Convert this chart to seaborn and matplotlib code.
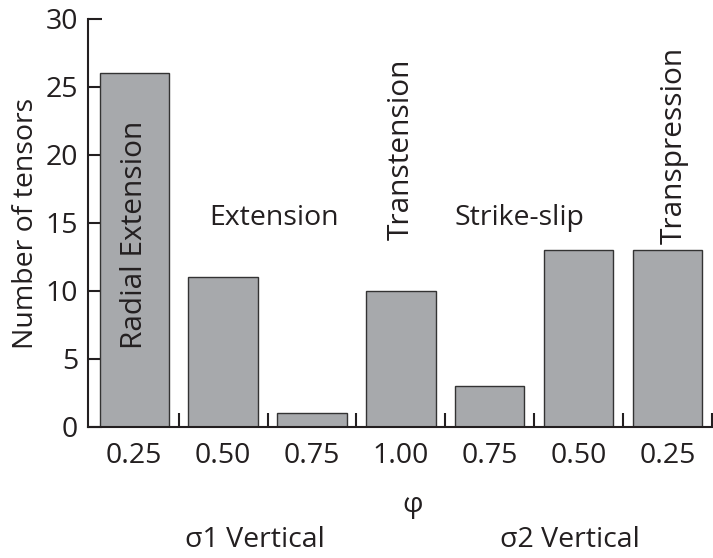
import matplotlib
matplotlib.use("Agg")
import matplotlib.pyplot as plt
import seaborn as sns
import pandas as pd
import numpy as np

phi_labels = ["0.25", "0.50", "0.75", "1.00", "0.75", "0.50", "0.25"]
counts = [26, 11, 1, 10, 3, 13, 13]
positions = list(range(len(counts)))

sns.set_theme(style="ticks")
plt.rcParams['font.family'] = ['Open Sans', 'DejaVu Sans']

fig = plt.figure(figsize=(7.13, 5.58), dpi=100)
ax = fig.add_axes([0.1234, 0.2348, 0.8752, 0.7312])

df = pd.DataFrame({"pos": positions, "count": counts})
sns.barplot(data=df, x="pos", y="count", ax=ax, color="#a7a9ac", saturation=1,
            width=0.78, edgecolor="#333333", linewidth=1.0)

ax.set_xlim(-0.52, 6.42)
ax.set_ylim(0, 30)
ax.set_yticks([0, 5, 10, 15, 20, 25, 30])
ax.set_xticks(positions)
ax.set_xticklabels(phi_labels)
ax.set_xticks([0.5, 1.5, 2.5, 3.5, 4.5, 5.5, 6.5], minor=True)
fs = 20.5
tc = "#231f20"
ax.tick_params(axis="x", which="major", length=0, pad=11, labelsize=fs, colors=tc)
ax.tick_params(axis="x", which="minor", direction="in", length=10, width=1.5, color=tc)
ax.tick_params(axis="y", direction="in", length=10, width=1.5, labelsize=fs, pad=7, colors=tc)
for s in ["top", "right"]:
    ax.spines[s].set_visible(False)
for s in ["left", "bottom"]:
    ax.spines[s].set_linewidth(1.5)
    ax.spines[s].set_color(tc)
ax.set_xlabel("")
ax.set_ylabel("Number of tensors", fontsize=fs, color=tc, labelpad=4)

vfs = 21.5
ax.text(0, 14.1, "Radial Extension", rotation=90, ha="center", va="center", fontsize=vfs, color=tc)
ax.text(1.57, 15.4, "Extension", ha="center", va="center", fontsize=fs, color=tc)
ax.text(3.0, 20.4, "Transtension", rotation=90, ha="center", va="center", fontsize=vfs, color=tc)
ax.text(4.33, 15.4, "Strike-slip", ha="center", va="center", fontsize=fs, color=tc)
ax.text(6.08, 20.7, "Transpression", rotation=90, ha="center", va="center", fontsize=vfs, color=tc)

fig.text(413/713, 1 - 505/558, "φ", ha="center", va="center", fontsize=fs, color=tc)
fig.text(255/713, 1 - 540/558, "σ1 Vertical", ha="center", va="center", fontsize=fs, color=tc)
fig.text(570/713, 1 - 540/558, "σ2 Vertical", ha="center", va="center", fontsize=fs, color=tc)

fig.savefig("out.png", dpi=100)
